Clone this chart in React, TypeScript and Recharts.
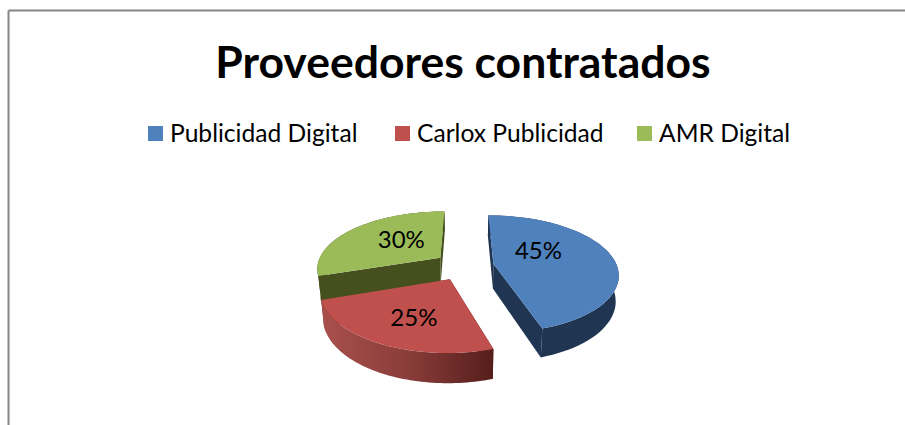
import { PieChart, Pie, Legend } from 'recharts';

const providers = ['Publicidad Digital', 'Carlox Publicidad', 'AMR Digital'];
const shares = [45, 25, 30];

const topColors = ['#4F81BD', '#C0504D', '#9BBB59'];
const wallColors = ['#1F3552', '#5E2320', '#46501F'];
const legendLeft = [148, 395, 637];
// where each percent label sits relative to the slice's tip, in pixels
const labelOffset = [
  [45, -14],
  [-36, 37],
  [-39, -19],
];

const data = providers.map((name, i) => ({ name, value: shares[i], fill: topColors[i] }));

// fake 3D look: squashed circle, nearer parts drawn a bit larger
const TILT = 0.48;
const PERSPECTIVE = 0.17;
const EXPLODE = 30;
const DEPTH = 25;

function project(cx: number, cy: number, R: number, X: number, Y: number) {
  const s = 1 + (PERSPECTIVE * Y) / R;
  return { x: cx + X * s, y: cy + TILT * Y * s, s };
}

function lower(cx: number, p: { x: number; y: number; s: number }) {
  return { x: cx + (p.x - cx) * 0.98, y: p.y + DEPTH * p.s };
}

function toPath(points: { x: number; y: number }[]) {
  return points.map((p, i) => `${i ? 'L' : 'M'}${p.x.toFixed(1)} ${p.y.toFixed(1)}`).join(' ') + ' Z';
}

function sliceGeometry(props: any) {
  const { cx, cy, outerRadius: R, startAngle, endAngle, midAngle } = props;
  const rad = (a: number) => (a * Math.PI) / 180;
  const ox = EXPLODE * Math.cos(rad(midAngle));
  const oy = -EXPLODE * Math.sin(rad(midAngle));
  const tip = project(cx, cy, R, ox, oy);
  const arc = [];
  const steps = 60;
  for (let i = 0; i <= steps; i++) {
    const a = rad(startAngle + ((endAngle - startAngle) * i) / steps);
    arc.push(project(cx, cy, R, ox + R * Math.cos(a), oy - R * Math.sin(a)));
  }
  return { tip, arc, cx };
}

function SliceWalls(props: any) {
  const { tip, arc, cx } = sliceGeometry(props);
  const i = data.findIndex((d) => d.name === props.name);
  const wallFill = i === 1 ? 'url(#redWall)' : wallColors[i];
  const first = arc[0];
  const last = arc[arc.length - 1];
  return (
    <g>
      {i === 1 && (
        <defs>
          <linearGradient id="redWall" x1="0" y1="0" x2="1" y2="0">
            <stop offset="0" stopColor="#A9504C" />
            <stop offset="0.5" stopColor="#8A3D3A" />
            <stop offset="1" stopColor="#561E1B" />
          </linearGradient>
        </defs>
      )}
      <path d={toPath([tip, first, lower(cx, first), lower(cx, tip)])} fill={wallColors[i]} />
      <path d={toPath([tip, last, lower(cx, last), lower(cx, tip)])} fill={wallColors[i]} />
      <path d={toPath([...arc, ...arc.map((p) => lower(cx, p)).reverse()])} fill={wallFill} />
    </g>
  );
}

function SliceTop(props: any) {
  const { tip, arc } = sliceGeometry(props);
  const i = data.findIndex((d) => d.name === props.name);
  return (
    <g>
      <path d={toPath([tip, ...arc])} fill={topColors[i]} />
      <text
        x={tip.x + labelOffset[i][0]}
        y={tip.y + labelOffset[i][1]}
        textAnchor="middle"
        dominantBaseline="central"
        fontFamily="Lato"
        fontSize={24}
        fill="#000"
      >
        {props.value}%
      </text>
    </g>
  );
}

function LegendRow({ payload }: any) {
  const items = (payload || []).filter((entry: any) => entry.type !== 'none');
  return (
    <div style={{ position: 'relative', height: 0, fontFamily: 'Lato', fontSize: 24.6, color: '#000' }}>
      {items.map((entry: any, i: number) => (
        <div key={entry.value} style={{ position: 'absolute', left: legendLeft[i], top: 0, whiteSpace: 'nowrap', lineHeight: '30px' }}>
          <span
            style={{ display: 'inline-block', position: 'relative', top: -1, width: 15, height: 15, marginRight: 7, background: entry.color }}
          />
          {entry.value}
        </div>
      ))}
    </div>
  );
}

export default function App() {
  return (
    <div style={{ position: 'absolute', left: 0, top: 0, width: 905, height: 425, overflow: 'hidden', background: '#fff' }}>
      <PieChart width={905} height={425} margin={{ top: 0, right: 0, bottom: 0, left: 0 }}>
        <line x1={8.5} y1={10.5} x2={905} y2={10.5} stroke="#868686" strokeWidth={2} />
        <line x1={8.5} y1={10.5} x2={8.5} y2={425} stroke="#868686" strokeWidth={2} />
        <text x={463} y={60} textAnchor="middle" dominantBaseline="central" fontFamily="Lato" fontWeight={700} fontSize={44.5} fill="#000">
          Proveedores contratados
        </text>
        <Legend
          content={LegendRow}
          verticalAlign="top"
          itemSorter={null}
          wrapperStyle={{ position: 'absolute', left: 0, top: 118, width: 905 }}
        />
        <Pie
          data={data}
          dataKey="value"
          nameKey="name"
          cx={464}
          cy={266}
          outerRadius={123.5}
          startAngle={90}
          endAngle={-270}
          stroke="none"
          legendType="none"
          shape={SliceWalls}
          isAnimationActive={false}
        />
        <Pie
          data={data}
          dataKey="value"
          nameKey="name"
          cx={464}
          cy={266}
          outerRadius={123.5}
          startAngle={90}
          endAngle={-270}
          stroke="none"
          shape={SliceTop}
          isAnimationActive={false}
        />
      </PieChart>
    </div>
  );
}
